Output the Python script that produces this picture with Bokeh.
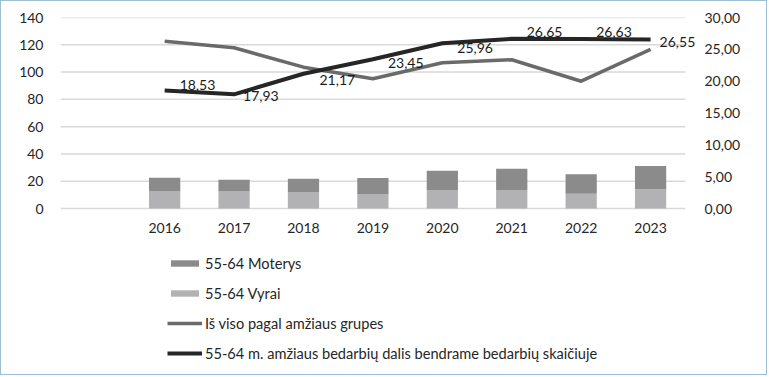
from bokeh.plotting import figure
from bokeh.models import (ColumnDataSource, Range1d, LinearAxis, Legend, LegendItem,
                          LabelSet, CustomJSTickFormatter, FixedTicker)
from bokeh.core.properties import value
from bokeh.embed import file_html
from bokeh.resources import INLINE

# ---- data ----
categories = ["", "2016", "2017", "2018", "2019", "2020", "2021", "2022", "2023"]
years = ["2016", "2017", "2018", "2019", "2020", "2021", "2022", "2023"]
vyrai = [12.5, 12.5, 11.8, 10.3, 13.5, 13.5, 10.8, 14.2]
moterys = [10.1, 8.6, 10.0, 12.0, 14.2, 15.7, 14.4, 16.9]
is_viso = [122.6, 117.8, 103.6, 95.1, 106.8, 109.0, 93.3, 116.6]
dalis = [18.53, 17.93, 21.17, 23.45, 25.96, 26.65, 26.63, 26.55]
left_ticks = [0, 20, 40, 60, 80, 100, 120, 140]
right_ticks = [0, 5, 10, 15, 20, 25, 30]

# label placement (style, pixels)
lab_dx = [15, 9, 16, 15, 15, 15, 15, 9]
lab_dy = [6, -2, -6, -4, -5, 7, 7, -3]

FONT = "Lato"
W, H = 767, 375
LEFT_MAX, RIGHT_MAX = 140, 30
BELOW = 120.2   # extra space under zero (room for year labels and legend)

xpos = [categories.index(y) for y in years]
n = len(categories)

p = figure(x_range=Range1d(-0.5, n - 0.5 + 0.19), y_range=Range1d(-BELOW, LEFT_MAX),
           width=W, height=H, output_backend="svg", toolbar_location=None,
           min_border_left=59, min_border_right=70, min_border_top=16,
           min_border_bottom=4)
p.styles = {"border": "1px solid #9dbdd2"}
p.extra_y_ranges = {"right": Range1d(-BELOW * RIGHT_MAX / LEFT_MAX, RIGHT_MAX)}
p.outline_line_color = None
p.xgrid.grid_line_color = None
p.ygrid.grid_line_color = None

# horizontal gridlines across the category area only
p.segment(x0=[-0.5] * len(left_ticks), x1=[n - 0.5] * len(left_ticks),
          y0=left_ticks, y1=left_ticks, line_color="#d9d9d9", line_width=1.5)

src = ColumnDataSource(dict(x=xpos, vyrai=vyrai, moterys=moterys, is_viso=is_viso,
                            dalis=dalis,
                            txt=[f"{v:.2f}".replace(".", ",") for v in dalis],
                            dx=lab_dx, dy=lab_dy))

bars = p.vbar_stack(["vyrai", "moterys"], x="x", width=0.45, source=src,
                    color=["#b2b2b4", "#8b8b8b"], line_color=None)
gl = p.line("x", "is_viso", source=src, line_color="#6a6a6a", line_width=3.5)
bl = p.line("x", "dalis", source=src, line_color="#262626", line_width=4,
            y_range_name="right")

labels = LabelSet(x="x", y="dalis", text="txt", source=src, y_range_name="right",
                  x_offset="dx", y_offset="dy", text_font=value(FONT), text_font_size="14px",
                  text_color="#1a1a1a", text_baseline="middle", text_align="left")
p.add_layout(labels)

p.xaxis.ticker = FixedTicker(ticks=xpos)
p.xaxis.major_label_overrides = {i: c for i, c in enumerate(categories)}
p.xaxis.fixed_location = 0
p.yaxis.ticker = FixedTicker(ticks=left_ticks)

ra = LinearAxis(y_range_name="right", ticker=FixedTicker(ticks=right_ticks),
                formatter=CustomJSTickFormatter(code="return tick.toFixed(2).replace('.', ',');"))
p.add_layout(ra, "right")

for ax in [p.xaxis[0], p.yaxis[0], ra]:
    ax.axis_line_color = None
    ax.major_tick_line_color = None
    ax.minor_tick_line_color = None
    ax.major_label_text_font = FONT
    ax.major_label_text_font_size = "14px"
    ax.major_label_text_color = "#262626"
p.yaxis[0].major_label_standoff = 11
ra.major_label_standoff = 0
p.xaxis[0].major_label_standoff = 8

legend = Legend(items=[
    LegendItem(label="55-64 Moterys", renderers=[bars[1]]),
    LegendItem(label="55-64 Vyrai", renderers=[bars[0]]),
    LegendItem(label="Iš viso pagal amžiaus grupes", renderers=[gl]),
    LegendItem(label="55-64 m. amžiaus bedarbių dalis bendrame bedarbių skaičiuje", renderers=[bl]),
], location=(107, 9), orientation="vertical",
    glyph_width=35, glyph_height=8, label_height=20, spacing=10, label_standoff=3,
    padding=0, margin=0, border_line_color=None, background_fill_alpha=0,
    label_text_font=FONT, label_text_font_size="14.6px", label_text_color="#262626")
p.add_layout(legend, "center")

open("out.html", "w").write(file_html(p, INLINE))
